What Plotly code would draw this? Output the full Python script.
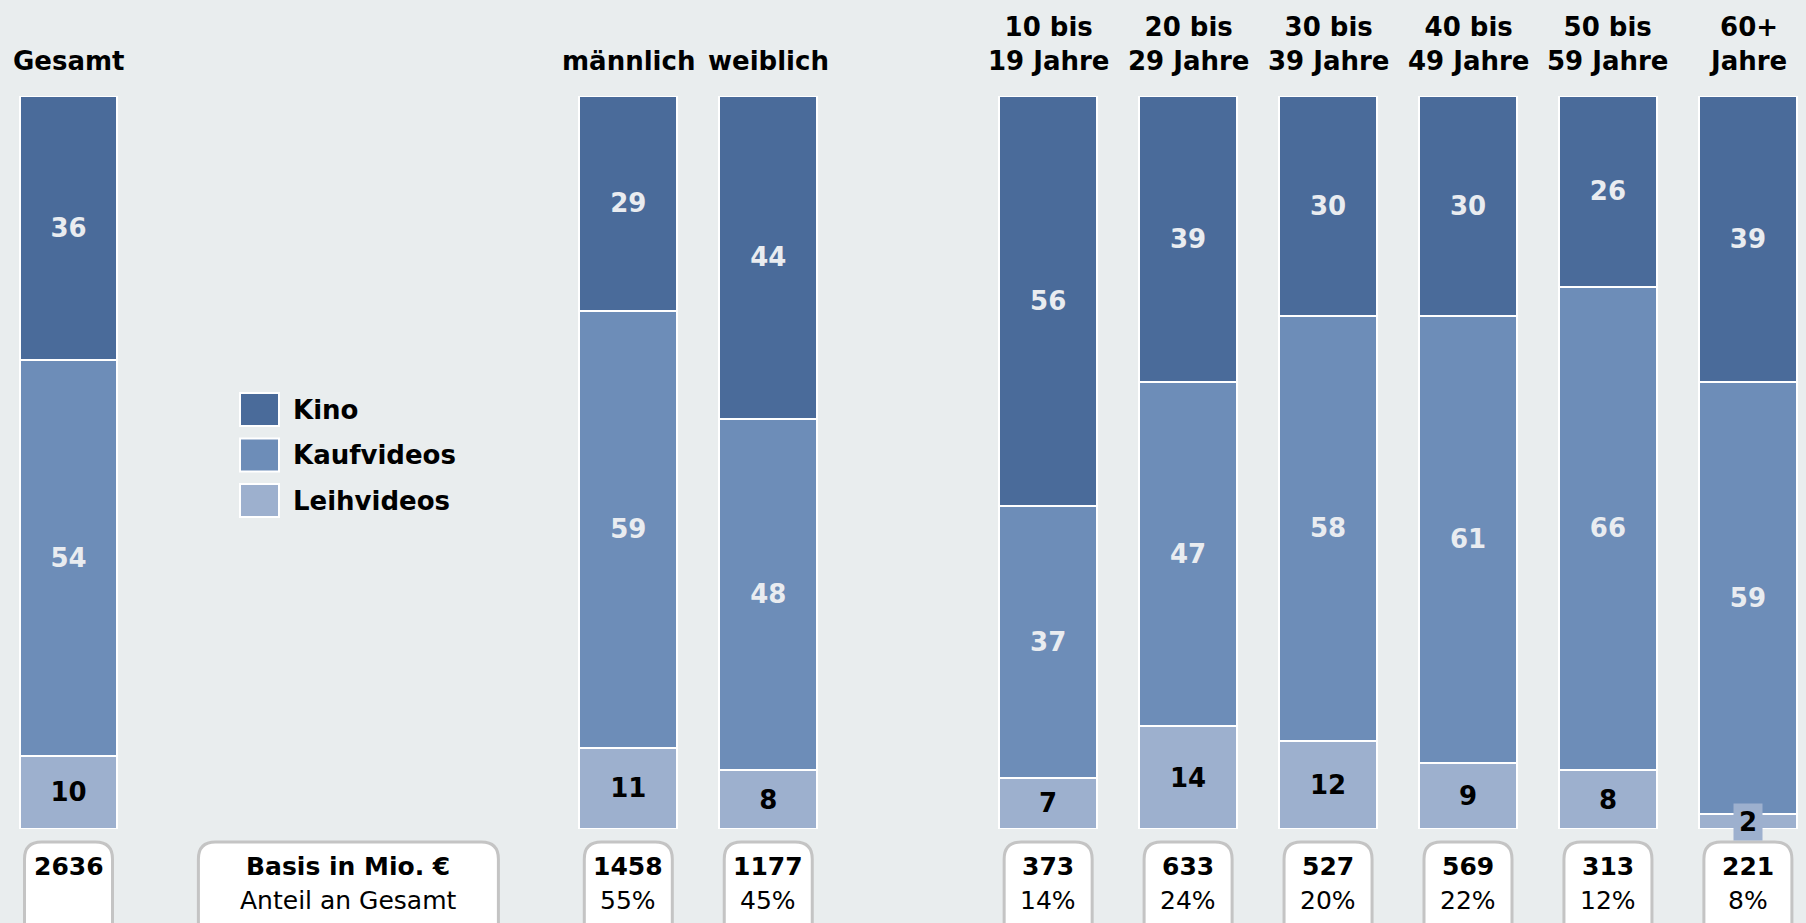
import plotly.graph_objects as go

# Categories and their horizontal slots (gaps leave room for the legend)
categories = ["Gesamt", "männlich", "weiblich",
              "10 bis<br>19 Jahre", "20 bis<br>29 Jahre", "30 bis<br>39 Jahre",
              "40 bis<br>49 Jahre", "50 bis<br>59 Jahre", "60+<br>Jahre"]
slots = [0, 4, 5, 7, 8, 9, 10, 11, 12]

# Shares in percent per segment
kino = [36, 29, 44, 56, 39, 30, 30, 26, 39]
kaufvideos = [54, 59, 48, 37, 47, 58, 61, 66, 59]
leihvideos = [10, 11, 8, 7, 14, 12, 9, 8, 2]

# Basis in Mio. € and share of total
basis = [2636, 1458, 1177, 373, 633, 527, 569, 313, 221]
anteil = [None, 55, 45, 14, 24, 20, 22, 12, 8]

series_names = ["Kino", "Kaufvideos", "Leihvideos"]
series_values = [kino, kaufvideos, leihvideos]
series_colors = ["#4a6b9a", "#6d8db8", "#9db0ce"]
label_colors = ["#e9ecf0", "#e9ecf0", "#000000"]

BG = "#e9edee"
FONT = "DejaVu Sans"
W, H = 1806, 923
SLOT_PX = 139.95
FIRST_CENTER_PX = 68.5
MT, MB = 96, 94

fig = go.Figure()

# stacked bars, bottom segment first
for name, vals, col, tcol in reversed(list(zip(series_names, series_values,
                                                series_colors, label_colors))):
    positions = ["inside" if v >= 5 else "none" for v in vals]
    fig.add_trace(go.Bar(
        x=slots, y=vals, name=name, width=0.70,
        marker=dict(color=col, line=dict(color="white", width=2)),
        text=[str(v) for v in vals], texttemplate="%{text}",
        textposition=positions, insidetextanchor="middle",
        constraintext="none",
        textfont=dict(family=FONT, size=26, color=tcol, weight="bold"),
        showlegend=False, hoverinfo="skip",
    ))

annotations = []
shapes = []

# small values get a label tab below the bar
for s, v in zip(slots, leihvideos):
    if v < 5:
        annotations.append(dict(
            x=s, y=0, xref="x", yref="paper", yshift=7, yanchor="middle",
            text=str(v), showarrow=False, bgcolor=series_colors[2],
            width=28, height=36, borderpad=0,
            font=dict(family=FONT, size=26, color="black", weight="bold")))

# column headers
for s, c in zip(slots, categories):
    annotations.append(dict(
        x=s, y=1, xref="x", yref="paper", yanchor="bottom", yshift=18,
        text=c, showarrow=False,
        font=dict(family=FONT, size=26, color="black", weight="bold")))


def rounded_box(anchor_x, half_w, top, bottom, r):
    path = (f"M {-half_w},{bottom} L {-half_w},{top - r} "
            f"Q {-half_w},{top} {-half_w + r},{top} "
            f"L {half_w - r},{top} Q {half_w},{top} {half_w},{top - r} "
            f"L {half_w},{bottom} Z")
    return dict(type="path", xref="x", yref="paper",
                xsizemode="pixel", ysizemode="pixel",
                xanchor=anchor_x, yanchor=0, path=path,
                fillcolor="white", line=dict(color="#c4c4c4", width=3),
                layer="below")


# basis boxes below each bar
for s, b, a in zip(slots, basis, anteil):
    shapes.append(rounded_box(s, 44, -13, -140, 17))
    annotations.append(dict(
        x=s, y=0, xref="x", yref="paper", yanchor="middle", yshift=-37,
        text=str(b), showarrow=False,
        font=dict(family=FONT, size=25, color="black", weight="bold")))
    if a is not None:
        annotations.append(dict(
            x=s, y=0, xref="x", yref="paper", yanchor="middle", yshift=-71,
            text=f"{a}%", showarrow=False,
            font=dict(family=FONT, size=25, color="black")))

# key box for the basis row
shapes.append(rounded_box(2, 150, -13, -140, 17))
annotations.append(dict(
    x=2, y=0, xref="x", yref="paper", yanchor="middle", yshift=-37,
    text="Basis in Mio. €", showarrow=False,
    font=dict(family=FONT, size=25, color="black", weight="bold")))
annotations.append(dict(
    x=2, y=0, xref="x", yref="paper", yanchor="middle", yshift=-71,
    text="Anteil an Gesamt", showarrow=False,
    font=dict(family=FONT, size=25, color="black")))

# legend drawn by hand (large swatches)
plot_h = H - MT - MB
for i, (name, col) in enumerate(zip(series_names, series_colors)):
    top_px = 393 + i * 45.5
    y1 = (H - MB - top_px) / plot_h
    y0 = (H - MB - top_px - 33) / plot_h
    shapes.append(dict(type="rect", xref="paper", yref="paper",
                       x0=240 / W, x1=279 / W, y0=y0, y1=y1,
                       fillcolor=col, line=dict(color="white", width=2)))
    annotations.append(dict(
        x=291 / W, y=(y0 + y1) / 2, xref="paper", yref="paper",
        xanchor="left", yanchor="middle", text=name, showarrow=False,
        font=dict(family=FONT, size=26, color="black", weight="bold")))

x_lo = -FIRST_CENTER_PX / SLOT_PX
x_hi = (W - FIRST_CENTER_PX) / SLOT_PX

fig.update_layout(
    width=W, height=H,
    margin=dict(l=0, r=0, t=MT, b=MB),
    paper_bgcolor=BG, plot_bgcolor=BG,
    barmode="stack", barnorm="percent",
    xaxis=dict(range=[x_lo, x_hi], visible=False, fixedrange=True),
    yaxis=dict(range=[0, 100], visible=False, fixedrange=True),
    annotations=annotations, shapes=shapes,
    font=dict(family=FONT),
)

fig.write_html("out.html", config={"displayModeBar": False},
               post_script="document.body.style.margin='0';")
